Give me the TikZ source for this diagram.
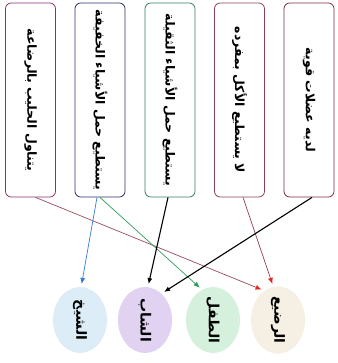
\documentclass[tikz,border=0pt]{standalone}
\usepackage{fontspec}
\newfontfamily\arabicfont[Script=Arabic]{DejaVu Sans}
\TeXXeTstate=1
\usetikzlibrary{arrows.meta,shapes.geometric}
\definecolor{plum}{HTML}{8A2F6E}
\definecolor{navy}{HTML}{2B2F6E}
\definecolor{tealgreen}{HTML}{2F7F68}
\definecolor{wine}{HTML}{8E3D5E}
\definecolor{wine2}{HTML}{7D2B4C}
\definecolor{rosewood}{HTML}{9A4A5C}
\definecolor{tipred}{HTML}{E0261E}
\definecolor{skyblue}{HTML}{2F7CD2}
\definecolor{leafgreen}{HTML}{2E9A5A}
\definecolor{skyfill}{HTML}{DCEDF8}
\definecolor{lilac}{HTML}{E1D2F1}
\definecolor{mint}{HTML}{D6F0DE}
\definecolor{cream}{HTML}{F5EFE4}
\newcommand{\vtxt}[1]{\rotatebox{-90}{\arabicfont\bfseries\beginR #1\endR}}

\begin{document}
\begin{tikzpicture}[x=1pt,y=-1pt,
  box/.style={draw,rounded corners=2mm,line width=0.8pt,minimum width=50pt,minimum height=194pt,inner sep=0pt,font=\fontsize{12.5}{15}\selectfont},
  oval/.style={ellipse,minimum width=54pt,minimum height=66pt,inner sep=0pt,font=\fontsize{14}{16}\selectfont},
  arr/.style={-{Latex[length=6pt,width=5pt]},line width=0.7pt,shorten >=3pt},
  redtip/.style={-{Latex[length=6pt,width=5pt,color=tipred]}}]
  \useasboundingbox (0,0) rectangle (337,363);
  % statements
  \node[box,draw=plum] (b1) at (30.5,100) {\vtxt{يتناول الحليب بالرضاعة}};
  \node[box,draw=navy] (b2) at (100,100) {\vtxt{يستطيع حمل الأشياء الخفيفة}};
  \node[box,draw=tealgreen] (b3) at (170,100) {\vtxt{يستطيع حمل الأشياء الثقيلة}};
  \node[box,draw=wine] (b4) at (239.5,100) {\vtxt{لا يستطيع الأكل بمفرده}};
  \node[box,draw=wine2] (b5) at (309,100) {\vtxt{لديه عضلات قوية}};
  % stages
  \node[oval,fill=skyfill] (e1) at (80,320) {\vtxt{الشيخ}};
  \node[oval,fill=lilac] (e2) at (145,320) {\vtxt{الشاب}};
  \node[oval,fill=mint] (e3) at (213,320) {\vtxt{الطفل}};
  \node[oval,fill=cream] (e4) at (278,320) {\vtxt{الرضيع}};
  % links
  \draw[arr,redtip,draw=rosewood] ([xshift=5pt]b1.south) -- (e4.115);
  \draw[arr,draw=skyblue] ([xshift=-3pt]b2.south) -- (e1.88);
  \draw[arr,draw=leafgreen] (b2.south) -- (e3.110);
  \draw[arr,line width=1.1pt] ([xshift=-2pt]b3.south) -- (e2.85);
  \draw[arr,redtip,draw=wine] ([xshift=3.5pt]b4.south) -- (e4.98);
  \draw[arr,line width=1.1pt] ([xshift=3pt]b5.south) -- (e2.58);
\end{tikzpicture}
\end{document}
